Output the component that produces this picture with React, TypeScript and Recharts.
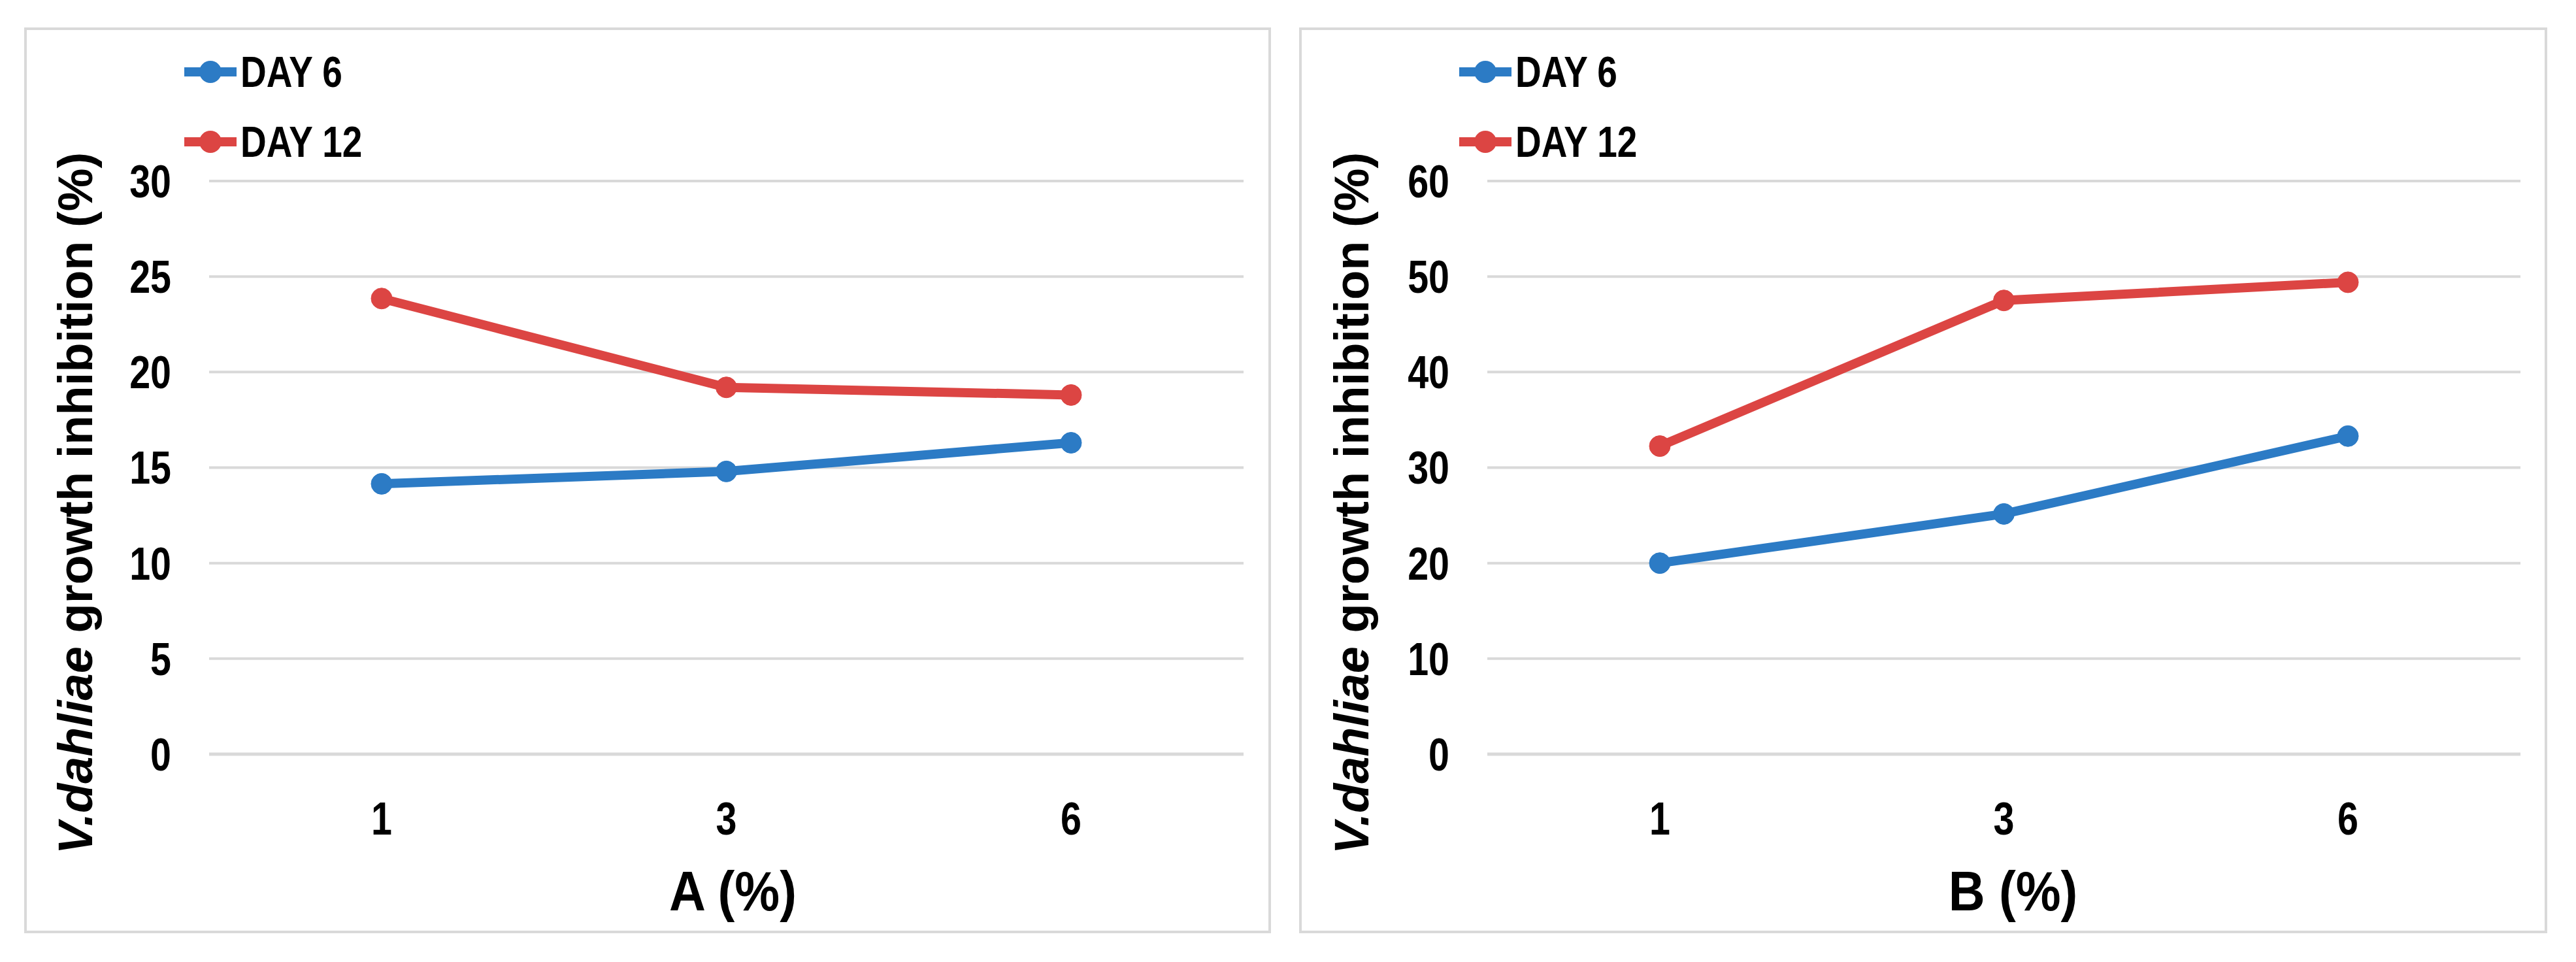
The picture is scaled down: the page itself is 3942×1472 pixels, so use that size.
import React from 'react';
import { LineChart, Line, XAxis, YAxis, CartesianGrid, Legend } from 'recharts';

const concentrations = ['1', '3', '6'];
const seriesNames = ['DAY 6', 'DAY 12'];
const aDay6 = [14.15, 14.8, 16.3];
const aDay12 = [23.85, 19.2, 18.8];
const bDay6 = [20.0, 25.15, 33.3];
const bDay12 = [32.25, 47.5, 49.4];
const aTicks = [0, 5, 10, 15, 20, 25, 30];
const bTicks = [0, 10, 20, 30, 40, 50, 60];
const xTitles = ['A (%)', 'B (%)'];

const BLUE = '#2C7BC5';
const RED = '#DC4543';
const GRID = '#D9D9D9';
const FONT = "'Liberation Sans', Arial, sans-serif";
const NARROW_SCALE = 0.82;

function buildRows(d6: number[], d12: number[]) {
  return concentrations.map((c, i) => ({ conc: c, day6: d6[i], day12: d12[i] }));
}

const renderLegend = (props: any) => {
  const payload = [...(props.payload || [])].sort(
    (a: any, b: any) => seriesNames.indexOf(a.value) - seriesNames.indexOf(b.value)
  );
  return (
    <div style={{ display: 'flex', flexDirection: 'column' }}>
      {payload.map((item: any, i: number) => (
        <div key={i} style={{ display: 'flex', alignItems: 'center', height: 107 }}>
          <svg width={84} height={40} style={{ display: 'block' }}>
            <line x1={2} y1={20} x2={82} y2={20} stroke={item.color} strokeWidth={14} />
            <circle cx={42} cy={20} r={17} fill={item.color} />
          </svg>
          <span
            style={{
              fontFamily: FONT,
              fontWeight: 700,
              fontSize: 67,
              color: '#000',
              marginLeft: 4,
              lineHeight: 1,
              whiteSpace: 'nowrap',
              display: 'inline-block',
              transform: `scaleX(${NARROW_SCALE})`,
              transformOrigin: 'left center',
            }}
          >
            {item.value}
          </span>
        </div>
      ))}
    </div>
  );
};

const YTick = (props: any) => {
  const { x, y, payload } = props;
  return (
    <g transform={`translate(${x},${y})`}>
      <text
        transform={`scale(${NARROW_SCALE},1)`}
        textAnchor="end"
        dy="0.355em"
        fontFamily={FONT}
        fontWeight={700}
        fontSize={70}
        fill="#000"
      >
        {payload.value}
      </text>
    </g>
  );
};

const XTick = (props: any) => {
  const { x, y, payload } = props;
  return (
    <g transform={`translate(${x},${y})`}>
      <text
        transform={`scale(${NARROW_SCALE},1)`}
        textAnchor="middle"
        dy="0.71em"
        fontFamily={FONT}
        fontWeight={700}
        fontSize={70}
        fill="#000"
      >
        {payload.value}
      </text>
    </g>
  );
};

function Panel(props: {
  left: number;
  width: number;
  rows: any[];
  max: number;
  ticks: number[];
  title: string;
  yLabelX: number;
  titleShift: number;
  marginLeft: number;
  marginRight: number;
}) {
  const height = 1386;
  const { left, width, rows, max, ticks, title, yLabelX, titleShift, marginLeft, marginRight } = props;
  const yAxisWidth = 180;
  const yLabel = () => {
    const cx = yLabelX;
    const cy = 728;
    return (
      <text
        x={cx}
        y={cy}
        textAnchor="middle"
        dominantBaseline="central"
        transform={`rotate(-90, ${cx}, ${cy})`}
        fontFamily={FONT}
        fontWeight={700}
        fontSize={74}
        fill="#000"
      >
        <tspan fontStyle="italic">V.dahliae</tspan>
        <tspan> growth inhibition (%)</tspan>
      </text>
    );
  };
  const xLabel = (lp: any) => {
    const vb = lp.viewBox || {};
    const cx = vb.x + vb.width / 2 + titleShift;
    const cy = vb.y + 239;
    return (
      <g transform={`translate(${cx},${cy})`}>
        <text
          transform="scale(0.9,1)"
          textAnchor="middle"
          fontFamily={FONT}
          fontWeight={700}
          fontSize={86}
          fill="#000"
        >
          {title}
        </text>
      </g>
    );
  };
  return (
    <div
      style={{
        position: 'absolute',
        left,
        top: 42,
        width,
        height,
        boxSizing: 'border-box',
        border: `4px solid ${GRID}`,
      }}
    >
      <div style={{ position: 'absolute', left: -4, top: -4 }}>
        <LineChart
          width={width}
          height={height}
          data={rows}
          margin={{ top: 235, right: marginRight, bottom: 0, left: marginLeft }}
        >
          <CartesianGrid vertical={false} stroke={GRID} strokeWidth={4} />
          <XAxis
            dataKey="conc"
            type="category"
            height={274}
            padding={{ left: 264, right: 264 }}
            axisLine={{ stroke: GRID, strokeWidth: 5 }}
            tickLine={false}
            tickSize={6}
            tickMargin={67}
            tick={<XTick />}
            label={{ content: xLabel }}
          />
          <YAxis
            type="number"
            domain={[0, max]}
            ticks={ticks}
            width={yAxisWidth}
            axisLine={false}
            tickLine={false}
            tickSize={6}
            tickMargin={52}
            interval={0}
            tick={<YTick />}
            label={{ content: yLabel }}
          />
          <Legend
            layout="vertical"
            align="center"
            verticalAlign="middle"
            content={renderLegend}
            wrapperStyle={{ left: 243, top: 14, width: 'auto', height: 'auto' }}
          />
          <Line
            dataKey="day6"
            name={seriesNames[0]}
            stroke={BLUE}
            strokeWidth={14}
            dot={{ r: 16, fill: BLUE, stroke: BLUE, strokeWidth: 1 }}
            activeDot={false}
            isAnimationActive={false}
          />
          <Line
            dataKey="day12"
            name={seriesNames[1]}
            stroke={RED}
            strokeWidth={14}
            dot={{ r: 16, fill: RED, stroke: RED, strokeWidth: 1 }}
            activeDot={false}
            isAnimationActive={false}
          />
        </LineChart>
      </div>
    </div>
  );
}

export default function App() {
  return (
    <div style={{ position: 'absolute', left: 0, top: 0, width: 3942, height: 1472, background: '#fff', overflow: 'hidden' }}>
      <Panel
        left={37}
        width={1908}
        rows={buildRows(aDay6, aDay12)}
        max={30}
        ticks={aTicks}
        title={xTitles[0]}
        yLabelX={78}
        titleShift={10}
        marginLeft={103}
        marginRight={42}
      />
      <Panel
        left={1988}
        width={1910}
        rows={buildRows(bDay6, bDay12)}
        max={60}
        ticks={bTicks}
        title={xTitles[1]}
        yLabelX={80}
        titleShift={14}
        marginLeft={108}
        marginRight={41}
      />
    </div>
  );
}
